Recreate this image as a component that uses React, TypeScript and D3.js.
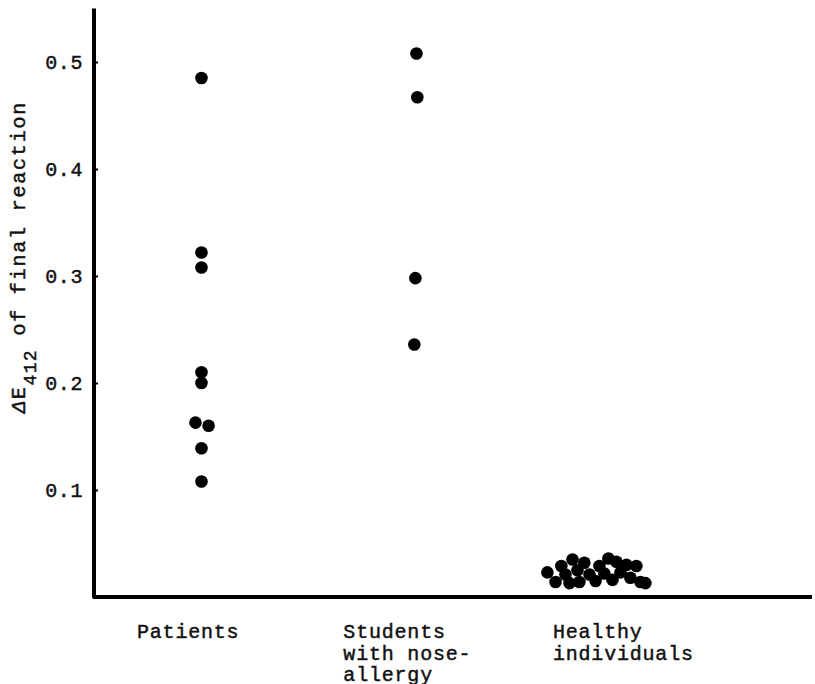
import { useEffect, useRef } from "react";
import * as d3 from "d3";

// category labels (one entry per line) and their left edge in x units
const categoryLines = [["Patients"], ["Students", "with nose-", "allergy"], ["Healthy", "individuals"]];
const categoryLabelX = [0.7, 1.66, 2.635];

const yTicks = [0.1, 0.2, 0.3, 0.4, 0.5];

// [x position, value]
const patients = [
  [1.0, 0.485],
  [1.0, 0.322],
  [1.0, 0.308],
  [1.0, 0.21],
  [1.0, 0.2],
  [0.972, 0.163],
  [1.033, 0.16],
  [1.0, 0.139],
  [1.0, 0.108],
];

const students = [
  [2.0, 0.508],
  [2.004, 0.467],
  [1.995, 0.298],
  [1.99, 0.236],
];

const healthy = [
  [2.609, 0.023],
  [2.647, 0.014],
  [2.674, 0.029],
  [2.693, 0.021],
  [2.712, 0.013],
  [2.726, 0.035],
  [2.749, 0.025],
  [2.758, 0.014],
  [2.781, 0.032],
  [2.805, 0.021],
  [2.833, 0.015],
  [2.851, 0.029],
  [2.874, 0.022],
  [2.893, 0.036],
  [2.912, 0.016],
  [2.93, 0.033],
  [2.949, 0.023],
  [2.977, 0.03],
  [2.995, 0.018],
  [3.023, 0.029],
  [3.042, 0.014],
  [3.065, 0.013],
];

const WIDTH = 815;
const HEIGHT = 684;
const FONT = "'Liberation Mono', 'DejaVu Sans Mono', monospace";

export default function App() {
  const svgRef = useRef<SVGSVGElement | null>(null);

  useEffect(() => {
    if (!svgRef.current) return;
    const svg = d3.select(svgRef.current);
    svg.selectAll("*").remove();
    svg.attr("width", WIDTH).attr("height", HEIGHT).style("background", "#fff");

    const x = d3.scaleLinear().domain([0.5, 3.84]).range([94, 812]);
    const y = d3.scaleLinear().domain([0, 0.55]).range([597, 8.5]);

    const textStyle = (sel: any) =>
      sel
        .attr("font-family", FONT)
        .attr("font-size", 20)
        .attr("fill", "#111")
        .attr("stroke", "#111")
        .attr("stroke-width", 0.45);

    // axes
    svg
      .append("path")
      .attr("d", `M${x(0.5)},${y(0.55)} L${x(0.5)},${y(0)} L${x(3.84)},${y(0)}`)
      .attr("fill", "none")
      .attr("stroke", "#000")
      .attr("stroke-width", 4)
      .attr("stroke-linejoin", "round");

    const yAxis = d3.axisLeft(y).tickValues(yTicks).tickSize(-4).tickPadding(11).tickFormat(d3.format(".1f"));
    svg
      .append("g")
      .attr("transform", `translate(${x(0.5)},0)`)
      .call(yAxis)
      .call((g) => g.select("path").remove())
      .call((g) => g.selectAll("line").attr("stroke", "#000").attr("stroke-width", 2))
      .call((g) => textStyle(g.selectAll("text")).attr("letter-spacing", 0.6));

    // y label
    const label = textStyle(
      svg
        .append("text")
        .attr("transform", "translate(25,413) rotate(-90)")
        .attr("letter-spacing", 1.8)
    );
    label.append("tspan").attr("font-style", "italic").text("\u0394");
    label.append("tspan").text("E");
    label.append("tspan").attr("dy", 11).attr("font-size", 18).attr("letter-spacing", 1.2).text("412");
    label.append("tspan").attr("dy", -11).text(" of final reaction");

    // category labels
    const cat = svg.append("g");
    categoryLines.forEach((lines, i) => {
      const t = textStyle(
        cat
          .append("text")
          .attr("x", x(categoryLabelX[i]))
          .attr("y", 638)
          .attr("letter-spacing", 0.8)
      );
      lines.forEach((line, j) => {
        t.append("tspan")
          .attr("x", x(categoryLabelX[i]))
          .attr("dy", j === 0 ? 0 : 21.5)
          .text(line);
      });
    });

    // points
    svg
      .append("g")
      .selectAll("circle")
      .data([...patients, ...students, ...healthy])
      .join("circle")
      .attr("cx", (d) => x(d[0]))
      .attr("cy", (d) => y(d[1]))
      .attr("r", 6.3)
      .attr("fill", "#000");
  }, []);

  return (
    <div style={{ position: "absolute", left: 0, top: 0 }}>
      <svg ref={svgRef} />
    </div>
  );
}
